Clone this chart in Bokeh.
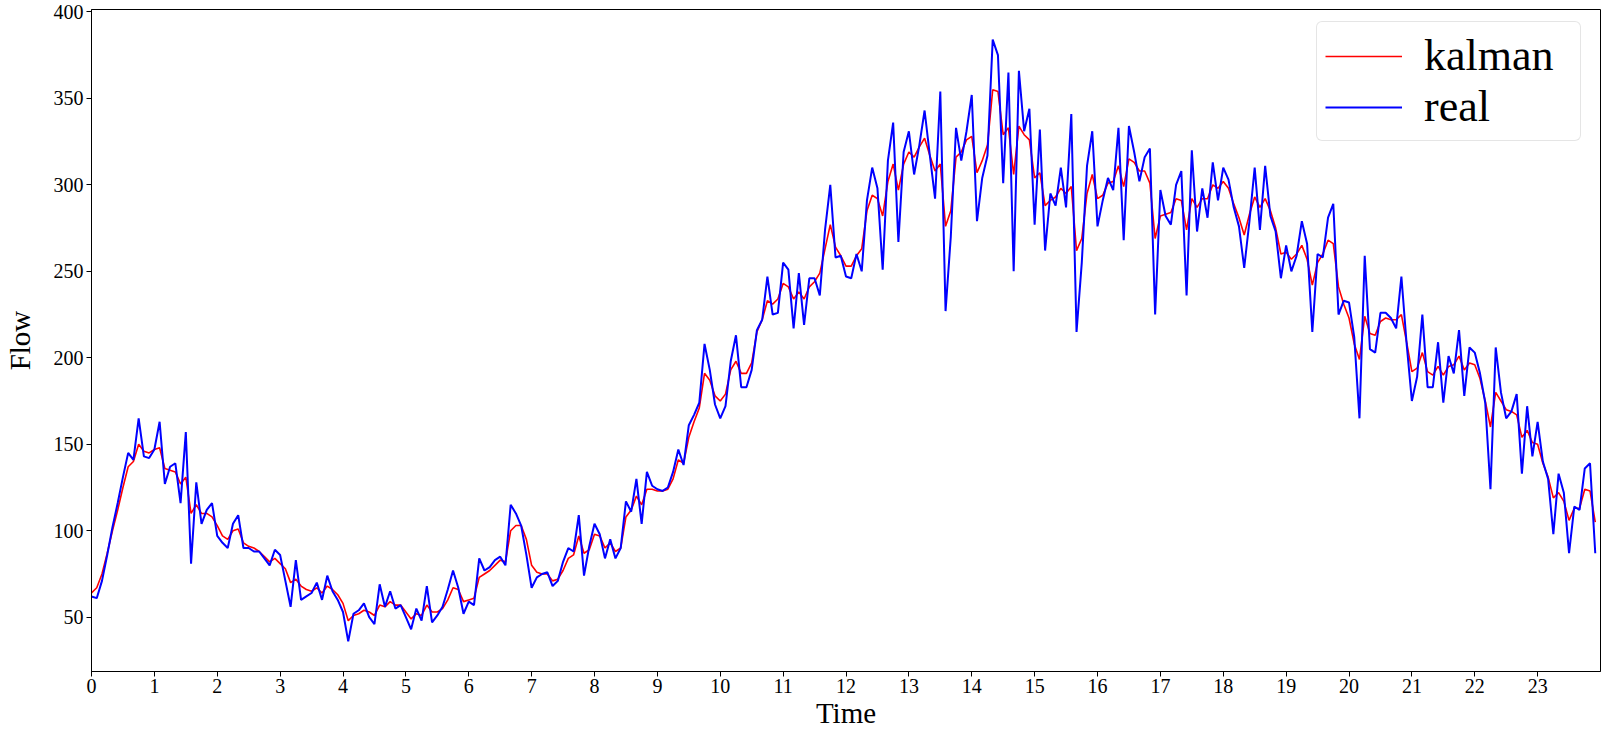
from bokeh.plotting import figure
from bokeh.models import Range1d, FixedTicker, Legend, LegendItem, ColumnDataSource
from bokeh.embed import file_html
from bokeh.resources import INLINE

# 5-minute samples over 24 hours (hour = index / 12)
real = [62, 61, 71, 86, 102, 116, 131, 145, 141, 165, 143, 142,
        147, 163, 127, 137, 139, 116, 157, 81, 128, 104, 112, 116,
        97, 93, 90, 104, 109, 90, 90, 88, 88, 84, 80, 89,
        86, 71, 56, 83, 60, 62, 64, 70, 60, 74, 65, 60,
        53, 36, 52, 54, 58, 50, 46, 69, 56, 65, 55, 57,
        50, 43, 55, 48, 68, 47, 51, 56, 66, 77, 67, 52,
        59, 57, 84, 77, 79, 83, 85, 80, 115, 110, 103, 86,
        67, 73, 75, 76, 68, 71, 82, 90, 88, 109, 74, 91,
        104, 98, 84, 95, 84, 90, 117, 111, 130, 104, 134, 126,
        124, 123, 125, 134, 147, 138, 161, 167, 174, 208, 193, 173,
        165, 172, 198, 213, 183, 183, 193, 216, 222, 247, 225, 226,
        255, 251, 217, 249, 219, 246, 246, 236, 274, 300, 258, 259,
        247, 246, 260, 250, 291, 310, 298, 251, 314, 336, 267, 319,
        331, 306, 323, 343, 317, 292, 354, 227, 270, 333, 314, 331,
        352, 279, 304, 317, 384, 375, 301, 365, 250, 366, 331, 344,
        277, 332, 262, 295, 288, 310, 287, 341, 215, 255, 311, 331,
        276, 291, 304, 297, 333, 268, 334, 319, 302, 316, 321, 225,
        297, 282, 277, 300, 308, 236, 320, 273, 298, 281, 313, 291,
        310, 303, 287, 276, 252, 279, 310, 274, 311, 282, 273, 246,
        265, 250, 259, 279, 266, 215, 260, 258, 281, 289, 225, 233,
        232, 212, 165, 259, 205, 203, 226, 226, 223, 217, 247, 208,
        175, 189, 225, 183, 183, 209, 174, 201, 191, 216, 178, 206,
        203, 191, 174, 124, 206, 180, 165, 169, 179, 133, 172, 143,
        163, 140, 130, 98, 133, 122, 87, 114, 112, 136, 139, 87]

kalman = [64, 67, 75, 87, 100, 112, 125, 137, 140, 150, 146, 145,
          147, 148, 136, 135, 134, 127, 131, 110, 115, 110, 110, 108,
          103, 97, 95, 100, 101, 93, 91, 90, 88, 85, 82, 84,
          81, 78, 70, 72, 68, 66, 65, 67, 64, 68, 66, 63,
          58, 48, 51, 52, 54, 53, 51, 57, 56, 59, 57, 57,
          53, 49, 52, 51, 57, 53, 53, 55, 60, 67, 66, 59,
          60, 61, 73, 75, 77, 80, 83, 82, 100, 103, 103, 95,
          80, 76, 75, 75, 71, 72, 77, 84, 86, 97, 87, 89,
          98, 97, 90, 93, 88, 90, 108, 112, 120, 115, 124, 124,
          123, 123, 124, 130, 141, 139, 154, 163, 171, 191, 187, 178,
          175, 179, 193, 198, 191, 191, 197, 215, 222, 233, 231, 234,
          243, 241, 234, 238, 234, 241, 244, 249, 263, 277, 264, 259,
          253, 253, 259, 263, 285, 294, 292, 282, 302, 312, 297, 312,
          319, 316, 322, 327, 317, 308, 312, 276, 285, 316, 319, 326,
          328, 307, 314, 323, 355, 354, 329, 333, 306, 334, 329, 326,
          304, 307, 288, 291, 293, 298, 295, 299, 262, 269, 295, 306,
          292, 294, 301, 302, 311, 299, 315, 313, 308, 308, 301, 269,
          282, 283, 284, 292, 291, 274, 292, 287, 292, 292, 300, 298,
          302, 298, 289, 281, 271, 283, 293, 287, 292, 285, 275, 260,
          261, 257, 260, 265, 257, 242, 255, 260, 268, 266, 241, 231,
          223, 208, 199, 224, 214, 213, 221, 223, 222, 222, 225, 209,
          192, 194, 203, 192, 190, 195, 190, 195, 196, 201, 193, 197,
          196, 188, 175, 160, 180, 175, 170, 169, 167, 154, 158, 151,
          150, 139, 131, 119, 122, 117, 106, 113, 113, 124, 123, 105]

hours = [i / 12 for i in range(len(real))]
x_ticks = list(range(0, 24))
y_ticks = [50, 100, 150, 200, 250, 300, 350, 400]

src = ColumnDataSource(dict(t=hours, real=real, kalman=kalman))

FONT = "Liberation Serif"

p = figure(width=1604, height=731, output_backend="svg", toolbar_location=None,
           x_range=Range1d(0, 24), y_range=Range1d(18.6, 401.4),
           min_border_left=90, min_border_right=4, min_border_top=9, min_border_bottom=59)

r_k = p.line("t", "kalman", source=src, line_color="#ff0000", line_width=1.6)
r_r = p.line("t", "real", source=src, line_color="#0000ff", line_width=2.0)

p.xgrid.visible = False
p.ygrid.visible = False
p.outline_line_color = "black"
p.outline_line_width = 1
p.background_fill_color = "white"
p.border_fill_color = "white"

for ax in (p.xaxis[0], p.yaxis[0]):
    ax.axis_line_color = "black"
    ax.major_tick_line_color = "black"
    ax.major_tick_out = 5
    ax.major_tick_in = 0
    ax.minor_tick_line_color = None
    ax.major_label_text_font = FONT
    ax.major_label_text_font_size = "20px"
    ax.major_label_text_color = "black"
    ax.axis_label_text_font = FONT
    ax.axis_label_text_font_size = "29px"
    ax.axis_label_text_font_style = "normal"
    ax.axis_label_text_color = "black"

p.xaxis[0].ticker = FixedTicker(ticks=x_ticks)
p.yaxis[0].ticker = FixedTicker(ticks=y_ticks)
p.xaxis[0].axis_label = "Time"
p.yaxis[0].axis_label = "Flow"
p.xaxis[0].major_label_standoff = 2
p.xaxis[0].axis_label_standoff = 1
p.yaxis[0].major_label_standoff = 3
p.yaxis[0].axis_label_standoff = 15

legend = Legend(items=[LegendItem(label="kalman", renderers=[r_k]),
                       LegendItem(label="real", renderers=[r_r])],
                location=(1225, 530))
legend.label_text_font = FONT
legend.label_text_font_size = "44px"
legend.label_text_color = "black"
legend.glyph_width = 77
legend.glyph_height = 40
legend.label_height = 40
legend.label_width = 148
legend.label_standoff = 22
legend.spacing = 0
legend.padding = 8
legend.margin = 0
legend.border_line_color = "#cccccc"
legend.border_line_width = 1
legend.border_radius = 6
legend.background_fill_alpha = 0.8
p.add_layout(legend)

open("out.html", "w").write(file_html(p, INLINE))
